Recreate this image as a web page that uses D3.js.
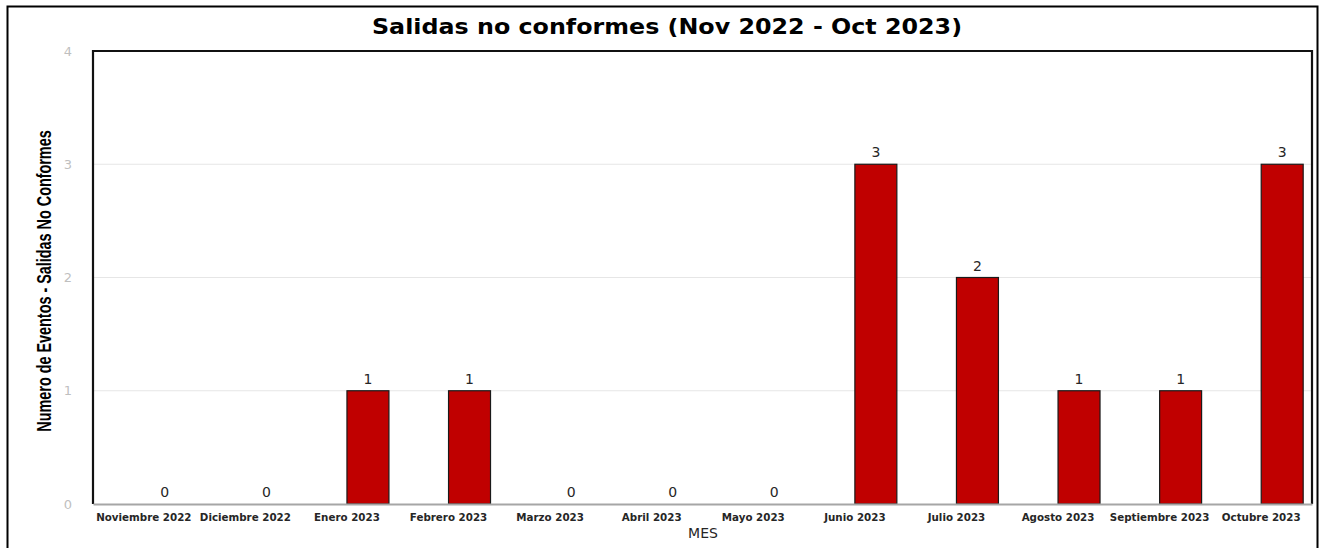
<!DOCTYPE html>
<html>
<head>
<meta charset="utf-8">
<script src="https://cdn.jsdelivr.net/npm/d3@7"></script>
<style>
  body { margin: 0; background: #fff; }
  svg { display: block; }
</style>
</head>
<body>
<svg id="chart" width="1329" height="548"></svg>
<script>
// datos
const meses = ["Noviembre 2022", "Diciembre 2022", "Enero 2023", "Febrero 2023", "Marzo 2023", "Abril 2023",
  "Mayo 2023", "Junio 2023", "Julio 2023", "Agosto 2023", "Septiembre 2023", "Octubre 2023"];
const eventos = [0, 0, 1, 1, 0, 0, 0, 3, 2, 1, 1, 3];
const series = ["vacia", "eventos"]; // excel: primera serie vacia, la barra queda a la derecha
const yTicks = [0, 1, 2, 3, 4];
const titulo = "Salidas no conformes (Nov 2022 - Oct 2023)";
const tituloY = "Numero de Eventos - Salidas No Conformes";
const tituloX = "MES";

const svg = d3.select("#chart");
const m = {left: 93, top: 51, right: 1312, bottom: 504};

// marco exterior
svg.append("path")
  .attr("d", "M7.5,560 V6.5 H1317.5 V560")
  .attr("fill", "none").attr("stroke", "#000").attr("stroke-width", 2);

svg.append("text").text(titulo)
  .attr("x", 667).attr("y", 34)
  .attr("text-anchor", "middle")
  .attr("textLength", 590).attr("lengthAdjust", "spacingAndGlyphs")
  .style("font-family", "DejaVu Sans").style("font-weight", "bold").style("font-size", "21px")
  .attr("fill", "#000");

const x = d3.scaleBand().domain(meses).range([m.left, m.right]).padding(0);
const xSub = d3.scaleBand().domain(series).range([0, x.bandwidth()]).paddingInner(0).paddingOuter(0.21);
const y = d3.scaleLinear().domain([0, 4]).range([m.bottom, m.top]);

// lineas de cuadricula
svg.append("g").selectAll("line")
  .data(yTicks.filter(d => d > 0 && d < 4))
  .enter().append("line")
  .attr("x1", m.left).attr("x2", m.right)
  .attr("y1", d => y(d)).attr("y2", d => y(d))
  .attr("stroke", "#e6e6e6").attr("stroke-width", 1);

// eje y
const yAxis = svg.append("g")
  .attr("transform", "translate(" + (m.left - 21) + ",0)")
  .call(d3.axisLeft(y).tickValues(yTicks).tickSize(0).tickPadding(0).tickFormat(d3.format("d")));
yAxis.select(".domain").remove();
yAxis.selectAll("text")
  .style("font-family", "DejaVu Sans").style("font-size", "13px").attr("fill", "#bfbfbf");

// barras
svg.append("g").selectAll("rect")
  .data(eventos)
  .enter().append("rect")
  .attr("x", (d, i) => x(meses[i]) + xSub("eventos"))
  .attr("y", d => y(d))
  .attr("width", xSub.bandwidth())
  .attr("height", d => y(0) - y(d))
  .attr("fill", "#c00000")
  .attr("stroke", "#1a1a1a").attr("stroke-width", 1.2);

// etiquetas de valores
svg.append("g").selectAll("text")
  .data(eventos)
  .enter().append("text")
  .text(d => d)
  .attr("x", (d, i) => x(meses[i]) + xSub("eventos") + xSub.bandwidth() / 2)
  .attr("y", d => y(d) - 7)
  .attr("text-anchor", "middle")
  .style("font-family", "DejaVu Sans").style("font-size", "14px")
  .attr("fill", "#262626");

// marco del area de grafico
svg.append("path")
  .attr("d", `M${m.left},${m.bottom} V${m.top} H${m.right} V${m.bottom}`)
  .attr("fill", "none").attr("stroke", "#111").attr("stroke-width", 2.2);

// eje x
const xAxis = svg.append("g")
  .attr("transform", "translate(0," + m.bottom + ")")
  .call(d3.axisBottom(x).tickSize(0).tickPadding(10));
xAxis.select(".domain").attr("stroke", "#a6a6a6").attr("stroke-width", 2);
xAxis.selectAll("text")
  .style("font-family", "DejaVu Sans").style("font-weight", "bold").style("font-size", "10.3px")
  .attr("fill", "#262626");

svg.append("text").text(tituloX)
  .attr("x", 703).attr("y", 538)
  .attr("text-anchor", "middle")
  .style("font-family", "DejaVu Sans").style("font-size", "14px")
  .attr("fill", "#262626");

// titulo eje y, condensado a mano (no hay fuente narrow)
svg.append("text").text(tituloY)
  .attr("transform", "translate(51,281) rotate(-90) scale(0.72,1)")
  .attr("text-anchor", "middle")
  .style("font-family", "'Liberation Sans', sans-serif")
  .style("font-weight", "bold").style("font-size", "20px")
  .attr("fill", "#000");
</script>
</body>
</html>
